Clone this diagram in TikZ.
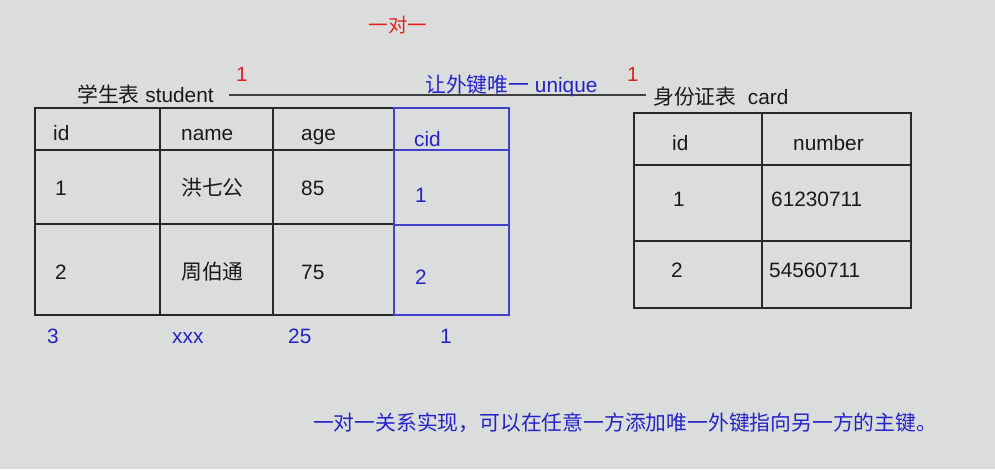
\documentclass[tikz,border=0pt]{standalone}
\usepackage{fontspec}
\setmainfont{Liberation Sans}
\newfontfamily\cjk{Noto Sans CJK SC}
\definecolor{bgc}{RGB}{218,221,219}
\definecolor{tline}{RGB}{40,40,40}
\definecolor{btext}{RGB}{35,35,200}
\definecolor{bline}{RGB}{65,65,205}
\definecolor{rtext}{RGB}{225,35,30}
\begin{document}
\begin{tikzpicture}[x=1pt,y=-1pt,
  txt/.style={anchor=base west,inner sep=0pt,font=\fontsize{20.8}{24}\selectfont,text=black!90},
  btxt/.style={txt,text=btext},
  rtxt/.style={txt,text=rtext,font=\fontsize{20.5}{24}\selectfont},
  grid/.style={draw=tline,line width=1.3pt},
  bgrid/.style={draw=bline,line width=1.1pt}]
\fill[bgc] (0,0) rectangle (995,469);
\useasboundingbox (0,0) rectangle (995,469);
% title
\node[rtxt,anchor=center,font=\cjk\fontsize{19.5}{22}\selectfont] (title) at (398,25) {一对一};
% student table
\draw[grid] (394,108) -- (35,108) -- (35,315) -- (394,315);
\draw[grid] (160,108) -- (160,315);
\draw[grid] (273,108) -- (273,315);
\draw[grid] (35,150) -- (394,150);
\draw[grid] (35,224) -- (394,224);
\draw[bgrid] (394,108) rectangle (509,315);
\draw[bgrid] (394,150) -- (509,150);
\draw[bgrid] (394,225) -- (509,225);
% student title
\node[txt] (stitle) at (77,102) {{\cjk 学生表} student};
\node[txt] (sid) at (53,140) {id};
\node[txt] (sname) at (181,140) {name};
\node[txt] (sage) at (301,140) {age};
\node[btxt] (scid) at (414,146) {cid};
\node[txt] (r1id) at (55,195) {1};
\node[txt] (r1name) at (181,195) {\cjk 洪七公};
\node[txt] (r1age) at (301,195) {85};
\node[btxt] (r1cid) at (415,202) {1};
\node[txt] (r2id) at (55,279) {2};
\node[txt] (r2name) at (181,279) {\cjk 周伯通};
\node[txt] (r2age) at (301,279) {75};
\node[btxt] (r2cid) at (415,284) {2};
\node[btxt] (r3id) at (47,343) {3};
\node[btxt] (r3name) at (172,343) {xxx};
\node[btxt] (r3age) at (288,343) {25};
\node[btxt] (r3cid) at (440,343) {1};
% card table
\draw[grid] (634,113) rectangle (911,308);
\draw[grid] (762,113) -- (762,308);
\draw[grid] (634,165) -- (911,165);
\draw[grid] (634,241) -- (911,241);
\node[txt] (ctitle) at (653,104) {{\cjk 身份证表}\ \ card};
\node[txt] (cid) at (672,150) {id};
\node[txt] (cnum) at (793,150) {number};
\node[txt] (c1id) at (673,206) {1};
\node[txt] (c1num) at (771,206) {61230711};
\node[txt] (c2id) at (671,277) {2};
\node[txt] (c2num) at (769,277) {54560711};
% relation
\draw[draw=black!75,line width=1.1pt] ([xshift=15pt,yshift=-1pt]stitle.east) coordinate (la) -- ([xshift=-7pt]ctitle.west |- la);
\node[rtxt] (one1) at (236,81) {1};
\node[rtxt] (one2) at (627,81) {1};
\node[btxt] (uniq) at (425,92) {{\cjk 让外键唯一} unique};
% note
\node[btxt,anchor=base,font=\cjk\fontsize{20.8}{24}\selectfont] (note) at (625,430) {一对一关系实现，可以在任意一方添加唯一外键指向另一方的主键。};
\end{tikzpicture}
\end{document}
